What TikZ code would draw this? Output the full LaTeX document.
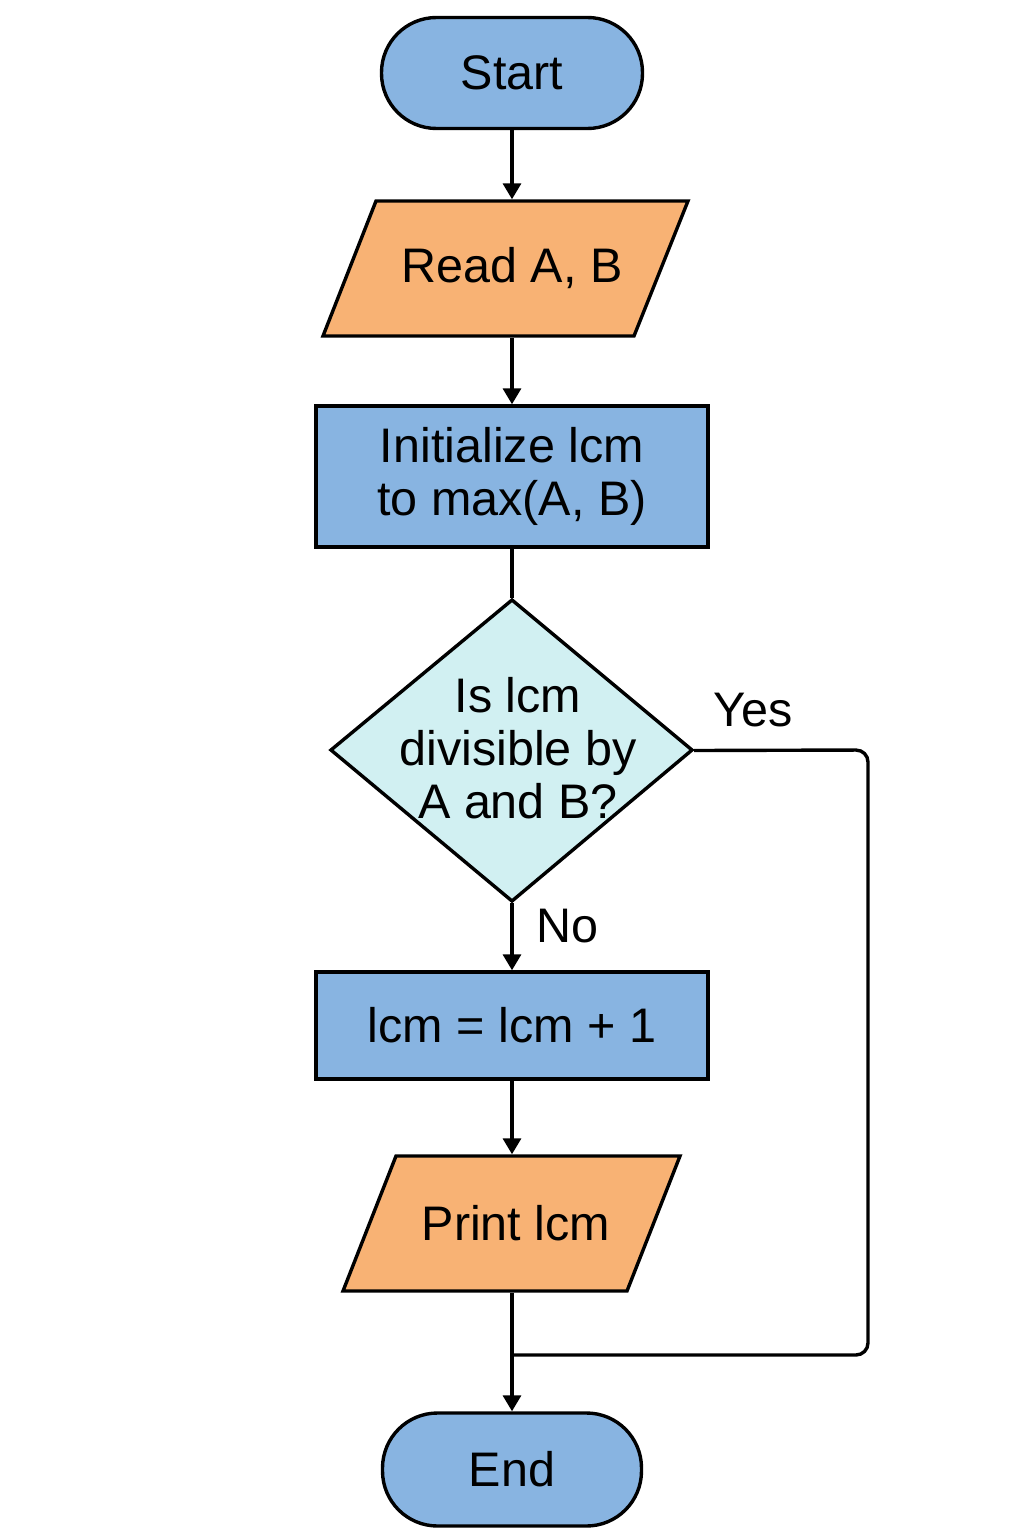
\documentclass[tikz,border=0pt]{standalone}
\usepackage{fontspec}
\setmainfont{Liberation Sans}
\usetikzlibrary{arrows.meta,calc}
\definecolor{fblue}{HTML}{88B4E1}
\definecolor{forange}{HTML}{F8B274}
\definecolor{fcyan}{HTML}{D1F0F2}
\begin{document}
\begin{tikzpicture}[x=1pt,y=-1pt,
  line width=3.4pt,
  every node/.style={font=\fontsize{48.5}{53}\selectfont, align=center, inner sep=0pt},
  term/.style={draw, fill=fblue, rectangle, rounded corners=55pt, minimum width=261pt, minimum height=111pt},
  procbox/.style={draw, fill=fblue, rectangle, minimum width=392pt},
  iotext/.style={rectangle, minimum height=135pt, minimum width=300pt},
  iofill/.style={draw, fill=forange, line join=miter},
  decbox/.style={draw, fill=fcyan, line join=miter},
  conn/.style={-{Triangle[width=18pt,length=16pt]}}
]
\useasboundingbox (0,0) rectangle (1024,1536);

\node[term] (start) at (512,73) {Start};

\path[iofill] (376,201) -- (688,201) -- (634,336) -- (323,336) -- cycle;
\node[iotext] (read) at (512,268.5) {Read A, B};

\node[procbox, minimum height=141pt] (init) at (512,476.5) {Initialize lcm\\to max(A, B)};

\path[decbox] (512,600) -- (692,750) -- (512,901) -- (331,750) -- cycle;
\node[minimum width=361pt, minimum height=301pt] (dec) at (512,750.5) {};
\node (dectext) at (518,748) {Is lcm\\divisible by\\A and B?};

\node[procbox, minimum height=107pt] (inc) at (512,1025.5) {lcm = lcm + 1};

\path[iofill] (396,1156) -- (680,1156) -- (627,1291) -- (343,1291) -- cycle;
\node[iotext] (print) at (512,1223.5) {\hspace*{8pt}Print lcm};

\node[term, minimum width=259pt, minimum height=113pt] (end) at (512,1469.5) {End};

\node (yes) at (753,710) {Yes};
\node (no) at (567,926) {No};

\coordinate (join) at (512,1355);

\draw[conn] (start.south) -- (read.north);
\draw[conn] (read.south) -- (init.north);
\draw (init.south) -- (dec.north);
\draw[conn] (dec.south) -- (inc.north);
\draw[conn] (inc.south) -- (print.north);
\draw[conn] (print.south) -- (end.north);
\draw[rounded corners=12pt] (dec.east) -- (868,750) -- (868,1355) -- (join);
\end{tikzpicture}
\end{document}
